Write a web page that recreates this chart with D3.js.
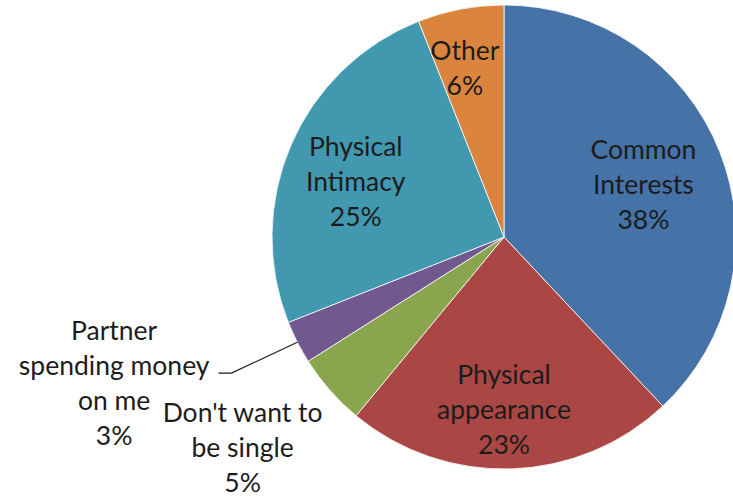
<!DOCTYPE html>
<html>
<head>
<meta charset="utf-8">
<script src="https://cdn.jsdelivr.net/npm/d3@7"></script>
<style>
  html, body { margin: 0; padding: 0; background: #fff; }
  svg { display: block; }
  text { font-family: Lato, "Open Sans", sans-serif; fill: #1c1c1c; }
</style>
</head>
<body>
<svg id="chart" width="733" height="497"></svg>
<script>
// Reasons people give for being in a relationship (share of responses, %)
const categories = [
  "Common Interests",
  "Physical appearance",
  "Don't want to be single",
  "Partner spending money on me",
  "Physical Intimacy",
  "Other"
];
const values = [38, 23, 5, 3, 25, 6];
// Label text lines as shown on the chart
const labelLines = [
  ["Common", "Interests"],
  ["Physical", "appearance"],
  ["Don't want to", "be single"],
  ["Partner", "spending money", "on me"],
  ["Physical", "Intimacy"],
  ["Other"]
];
const colors = ["#4572A7", "#AA4643", "#89A54E", "#71588F", "#4198AF", "#DB843D"];

const W = 733, H = 497;
const cx = 504, cy = 237, R = 232;
const fontSize = 26.5, lineH = 35;

// Label placement: radius factor along the slice's mid-angle plus a nudge
const labelLayout = {
  "Common Interests":            { k: 0.64, da: 1.5, dx: 0, dy: -1 },
  "Physical appearance":         { k: 0.75, da: 1.8, dx: 0, dy: -1 },
  "Don't want to be single":     { k: 1.45, da: 2.4, dx: 0, dy: -1 },
  "Partner spending money on me":{ k: 1.80, da: 6.0, dx: 0, dy: -3, leader: true },
  "Physical Intimacy":           { k: 0.68, da: -3.4, dx: 0, dy: -1 },
  "Other":                       { k: 0.74, da: 0, dx: -7, dy: 0 }
};

const data = categories.map((c, i) => ({ name: c, value: values[i], lines: labelLines[i], color: colors[i] }));

const svg = d3.select("#chart");
const g = svg.append("g").attr("transform", `translate(${cx},${cy})`);

const pie = d3.pie().value(d => d.value).sort(null);
const arc = d3.arc().innerRadius(0).outerRadius(R);
const arcs = pie(data);

g.selectAll("path.slice")
  .data(arcs)
  .join("path")
  .attr("class", "slice")
  .attr("d", arc)
  .attr("fill", d => d.data.color)
  .attr("stroke", "#ffffff")
  .attr("stroke-width", 0.8);

const polar = (angle, r) => [Math.sin(angle) * r, -Math.cos(angle) * r];

arcs.forEach(d => {
  const lay = labelLayout[d.data.name];
  const mid = (d.startAngle + d.endAngle) / 2;
  const [lx, ly] = polar(mid + lay.da * Math.PI / 180, R * lay.k);
  const lines = d.data.lines.concat([d.data.value + "%"]);
  const n = lines.length;
  const t = g.append("text")
    .attr("text-anchor", "middle")
    .attr("font-size", fontSize);
  lines.forEach((s, i) => {
    t.append("tspan")
      .attr("x", lx + lay.dx)
      .attr("y", ly + lay.dy + (i - (n - 1) / 2) * lineH)
      .attr("dy", "0.35em")
      .text(s);
  });

  if (lay.leader) {
    // Leader from the end of the second label line to the slice edge
    const lineY = ly + lay.dy + (1 - (n - 1) / 2) * lineH + 7;
    const tspan = t.selectAll("tspan").nodes()[1];
    const right = lx + lay.dx + tspan.getComputedTextLength() / 2 + 9;
    const [ex, ey] = polar(mid, R);
    g.append("path")
      .attr("d", d3.line()([[right, lineY], [right + 13, lineY], [ex, ey]]))
      .attr("fill", "none")
      .attr("stroke", "#1c1c1c")
      .attr("stroke-width", 1.2);
  }
});
</script>
</body>
</html>
